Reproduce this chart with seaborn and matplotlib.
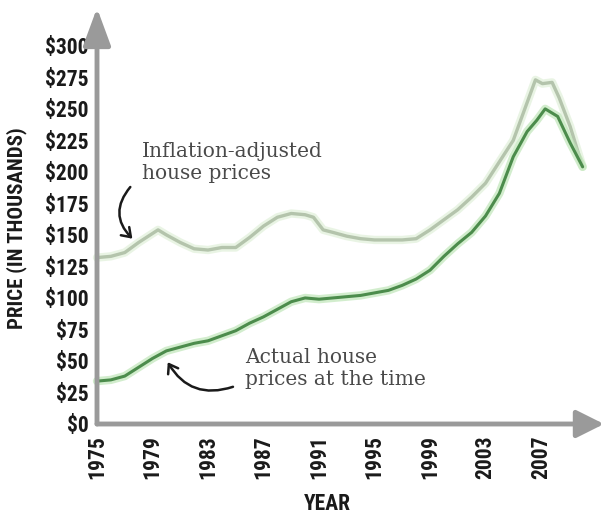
import matplotlib
matplotlib.use("Agg")
import matplotlib.pyplot as plt
import matplotlib.patheffects as pe
import pandas as pd
import seaborn as sns

# Median house prices, thousands of dollars
actual_years = [1975, 1976, 1977, 1978, 1979, 1980, 1981, 1982, 1983, 1984,
                1985, 1986, 1987, 1988, 1989, 1990, 1991, 1992, 1993, 1994,
                1995, 1996, 1997, 1998, 1999, 2000, 2001, 2002, 2003, 2004,
                2005, 2006, 2006.7, 2007.3, 2008.2, 2009.1, 2010]
actual_price = [34, 35, 38, 45, 52, 58, 61, 64, 66, 70,
                74, 80, 85, 91, 97, 100, 99, 100, 101, 102,
                104, 106, 110, 115, 122, 133, 143, 152, 165, 183,
                212, 232, 241, 250, 244, 223, 204]

adjusted_years = [1975, 1976, 1977, 1978, 1979.4, 1980, 1981, 1982, 1983, 1984,
                  1985, 1986, 1987, 1988, 1989, 1990, 1990.6, 1991.3, 1992, 1993,
                  1994, 1995, 1996, 1997, 1998, 1999, 2000, 2001, 2002, 2003,
                  2004, 2005, 2006, 2006.6, 2007.1, 2007.8, 2008.3, 2009.1, 2010]
adjusted_price = [132, 133, 136, 144, 154, 150, 144, 139, 138, 140,
                  140, 148, 157, 164, 167, 166, 164, 154, 152, 149,
                  147, 146, 146, 146, 147, 154, 162, 170, 180, 191,
                  208, 225, 255, 273, 270, 271, 259, 236, 204]

year_ticks = [1975, 1979, 1983, 1987, 1991, 1995, 1999, 2003, 2007]
price_ticks = [0, 25, 50, 75, 100, 125, 150, 175, 200, 225, 250, 275, 300]
price_tick_labels = [f"${v}" for v in price_ticks]

actual_df = pd.DataFrame({"year": actual_years, "price": actual_price})
adjusted_df = pd.DataFrame({"year": adjusted_years, "price": adjusted_price})

sns.set_theme(style="white")
label_family = ["Roboto Condensed", "Open Sans Condensed", "DejaVu Sans"]
plt.rcParams["font.family"] = label_family
plt.rcParams["font.stretch"] = "condensed"

fig = plt.figure(figsize=(6.04, 5.15), dpi=100)
ax = fig.add_axes([97 / 604, 91 / 515, 507 / 604, 416 / 515])
ax.set_xlim(1975, 2011.54)
ax.set_ylim(0, 330)

glow_light = [pe.Stroke(linewidth=6, foreground="#e4f2de", alpha=0.8), pe.Normal()]
glow_dark = [pe.Stroke(linewidth=6, foreground="#bfe6b8", alpha=0.7), pe.Normal()]

sns.lineplot(data=adjusted_df, x="year", y="price", ax=ax, color="#b4c4ac",
             linewidth=2.4, path_effects=glow_light, clip_on=False)
sns.lineplot(data=actual_df, x="year", y="price", ax=ax, color="#4c8c4c",
             linewidth=2.2, path_effects=glow_dark, clip_on=False)

for s in ax.spines.values():
    s.set_visible(False)

axis_grey = "#9a9a9a"
ax.annotate("", xy=(1.0, 0), xytext=(0, 0), xycoords="axes fraction",
            arrowprops=dict(arrowstyle="-|>,head_length=1.4,head_width=0.7",
                            color=axis_grey, lw=3.5, shrinkA=0, shrinkB=0))
ax.annotate("", xy=(0, 1.0), xytext=(0, 0), xycoords="axes fraction",
            arrowprops=dict(arrowstyle="-|>,head_length=1.9,head_width=0.7",
                            color=axis_grey, lw=3.5, shrinkA=0, shrinkB=0))

ax.set_xticks(year_ticks)
ax.set_xticklabels([str(y) for y in year_ticks], rotation=90)
ax.set_yticks(price_ticks)
ax.set_yticklabels(price_tick_labels)
ax.tick_params(axis="both", length=4, width=1.5, color="#d4d4d4",
               labelsize=15.5, labelcolor="#1a1a1a")
for lab in ax.get_xticklabels() + ax.get_yticklabels():
    lab.set_fontweight("bold")
ax.tick_params(axis="x", pad=4)
ax.tick_params(axis="y", pad=2)
ax.grid(False)

ax.set_xlabel("YEAR", fontsize=15.5, fontweight="bold", color="#1a1a1a")
ax.set_ylabel("PRICE (IN THOUSANDS)", fontsize=15, fontweight="bold",
              color="#1a1a1a")
ax.xaxis.label.set_va("center")
ax.yaxis.label.set_va("center")
ax.xaxis.set_label_coords((327 - 97) / 507, -80 / 416)
ax.yaxis.set_label_coords(-80 / 507, (424 - 228) / 416)

note_font = dict(family="DejaVu Serif", fontstretch="normal", fontsize=14.5,
                 color="#4a4a4a", linespacing=1.2)
ax.text(1978.24, 223.5, "Inflation-adjusted\nhouse prices", ha="left", va="top",
        **note_font)
ax.text(1985.66, 60, "Actual house\nprices at the time", ha="left", va="top",
        **note_font)

arrow_kw = dict(arrowstyle="->,head_length=0.5,head_width=0.35", color="#1a1a1a",
                lw=1.8, shrinkA=0, shrinkB=0)
ax.annotate("", xy=(1977.55, 147), xytext=(1977.4, 188),
            arrowprops=dict(connectionstyle="arc3,rad=0.45", **arrow_kw))
ax.annotate("", xy=(1980.1, 49), xytext=(1984.8, 29.5),
            arrowprops=dict(connectionstyle="arc3,rad=-0.4", **arrow_kw))

fig.savefig("out.png", dpi=100, facecolor="white")
